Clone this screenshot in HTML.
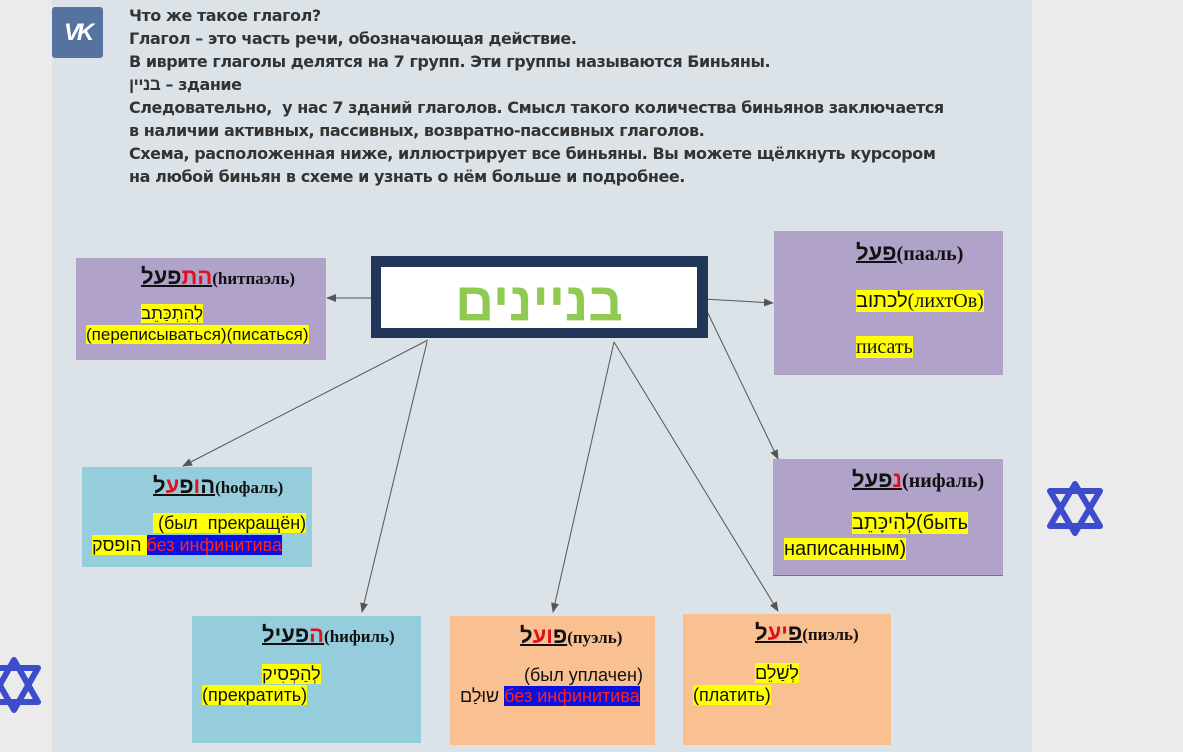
<!DOCTYPE html>
<html><head><meta charset="utf-8"><style>
body{margin:0;width:1183px;height:752px;overflow:hidden;background:#ebebeb;position:relative;font-family:"Liberation Sans",sans-serif}
.main{position:absolute;left:52px;top:0;width:980px;height:752px;background:#dce3e8}
.vk{position:absolute;left:52px;top:7px;width:51px;height:51px;background:#55739e;border-radius:3px;color:#fff;font:bold 24px "Liberation Sans",sans-serif;text-align:center;line-height:51px;letter-spacing:-3px;font-style:italic}
.intro{position:absolute;left:129px;top:4px;font:bold 16px "DejaVu Sans","Liberation Sans",sans-serif;color:#333;line-height:23px;letter-spacing:-0.45px}
.b{position:absolute}
.pu{background:#b0a2c8}.bl{background:#95cddc}.pe{background:#f9c091}
.t{position:absolute;font-family:"Liberation Serif",serif;font-weight:bold;font-size:17px;white-space:nowrap;color:#111}
.h{font-family:"Liberation Sans",sans-serif;font-size:22px;text-decoration:underline;text-decoration-thickness:2px;unicode-bidi:isolate;direction:rtl}
.r{color:#e01020}
.y{background:#ffff00}
.s{position:absolute;font-family:"Liberation Sans",sans-serif;font-size:17px;white-space:nowrap;color:#111}
.inf{background:#0a10e0;color:#ff2020}
</style></head><body>
<div class="main"></div>
<div class="vk">VK</div>
<div class="intro">Что же такое глагол?<br>Глагол – это часть речи, обозначающая действие.<br>В иврите глаголы делятся на 7 групп. Эти группы называются Биньяны.<br><span style="font-family:'Liberation Sans';font-size:17px">בניין</span> – здание<br>Следовательно,&nbsp; у нас 7 зданий глаголов. Смысл такого количества биньянов заключается<br>в наличии активных, пассивных, возвратно-пассивных глаголов.<br>Схема, расположенная ниже, иллюстрирует все биньяны. Вы можете щёлкнуть курсором<br>на любой биньян в схеме и узнать о нём больше и подробнее.</div>

<svg class="b" style="left:0;top:0" width="1183" height="752">
<defs><marker id="a" markerWidth="10" markerHeight="8" refX="9" refY="4" orient="auto" markerUnits="userSpaceOnUse"><path d="M0,0L10,4L0,8z" fill="#555"/></marker></defs>
<g stroke="#555" stroke-width="1" marker-end="url(#a)">
<line x1="380" y1="298" x2="327" y2="298"/>
<line x1="703" y1="299" x2="773" y2="303"/>
<line x1="428" y1="340" x2="183" y2="466"/>
<line x1="704" y1="305" x2="778" y2="459"/>
<line x1="427" y1="342" x2="362" y2="612"/>
<line x1="614" y1="342" x2="553" y2="612"/>
<line x1="614" y1="342" x2="778" y2="611"/>
</g>
<g fill="none" stroke="#3d4ccc" stroke-width="6" stroke-linejoin="round">
<path d="M1075,484L1100,526L1050,526Z"/><path d="M1075,533L1100,491L1050,491Z"/>
<path d="M14,660L38,702L-10,702Z"/><path d="M14,710L38,668L-10,668Z"/>
</g>
</svg>

<div class="b" style="left:371px;top:256px;width:337px;height:82px;background:#22365a"></div>
<div class="b" style="left:381px;top:267px;width:316px;height:61px;background:#fff;color:#8fcb50;font:bold 54px 'Liberation Sans',sans-serif;text-align:center;line-height:70px;overflow:hidden">בניינים</div>

<div class="b pu" style="left:76px;top:258px;width:250px;height:102px"></div>
<div class="t" style="left:141px;top:264px"><span class="h"><span class="r">הת</span>פעל</span>(hитпаэль)</div>
<div class="s" style="left:141px;top:304px"><span class="y">לְהִתְכַּתֵב</span></div>
<div class="s" style="left:86px;top:325px"><span class="y">(переписываться)(писаться)</span></div>

<div class="b pu" style="left:774px;top:231px;width:229px;height:144px"></div>
<div class="t" style="left:856px;top:240px;font-size:20px"><span class="h">פעל</span>(пааль)</div>
<div class="s" style="left:856px;top:290px;font-size:20px"><span class="y">לכתוב<span style="font-family:'Liberation Serif'">(лихтОв)</span></span></div>
<div class="s" style="left:856px;top:336px;font-size:20px"><span class="y" style="font-family:'Liberation Serif'">писать</span></div>

<div class="b pu" style="left:773px;top:459px;width:230px;height:116px;border-bottom:1px solid #777"></div>
<div class="t" style="left:852px;top:467px;font-size:20px"><span class="h"><span class="r">נ</span>פעל</span>(нифаль)</div>
<div class="s" style="left:852px;top:512px;font-size:20px"><span class="y">לְהִיכָּתֵב(быть</span></div>
<div class="s" style="left:784px;top:538px;font-size:20px"><span class="y">написанным)</span></div>

<div class="b bl" style="left:82px;top:467px;width:230px;height:100px"></div>
<div class="t" style="left:153px;top:473px"><span class="h">ה<span class="r">ו</span>פ<span class="r">ע</span>ל</span>(hофаль)</div>
<div class="s" style="left:153px;top:513px;font-size:18px"><span class="y">&nbsp;(был&nbsp; прекращён)</span></div>
<div class="s" style="left:92px;top:535px;font-size:18px"><span class="y">הופסק&nbsp;</span><span class="inf">без инфинитива</span></div>

<div class="b bl" style="left:192px;top:616px;width:229px;height:127px"></div>
<div class="t" style="left:262px;top:622px"><span class="h"><span class="r">ה</span>פעיל</span>(hифиль)</div>
<div class="s" style="left:262px;top:664px;font-size:18px"><span class="y">לְהַפְסִיק</span></div>
<div class="s" style="left:202px;top:685px;font-size:18px"><span class="y">(прекратить)</span></div>

<div class="b pe" style="left:450px;top:616px;width:205px;height:129px"></div>
<div class="t" style="left:520px;top:623px"><span class="h">פ<span class="r">וע</span>ל</span>(пуэль)</div>
<div class="s" style="left:524px;top:665px;font-size:18px">(был уплачен)</div>
<div class="s" style="left:460px;top:686px;font-size:18px">שוּלַם <span class="inf">без инфинитива</span></div>

<div class="b pe" style="left:683px;top:614px;width:208px;height:131px"></div>
<div class="t" style="left:755px;top:620px"><span class="h">פ<span class="r">יע</span>ל</span>(пиэль)</div>
<div class="s" style="left:755px;top:663px;font-size:18px"><span class="y">לְשַׁלֵם</span></div>
<div class="s" style="left:693px;top:685px;font-size:18px"><span class="y">(платить)</span></div>
</body></html>
